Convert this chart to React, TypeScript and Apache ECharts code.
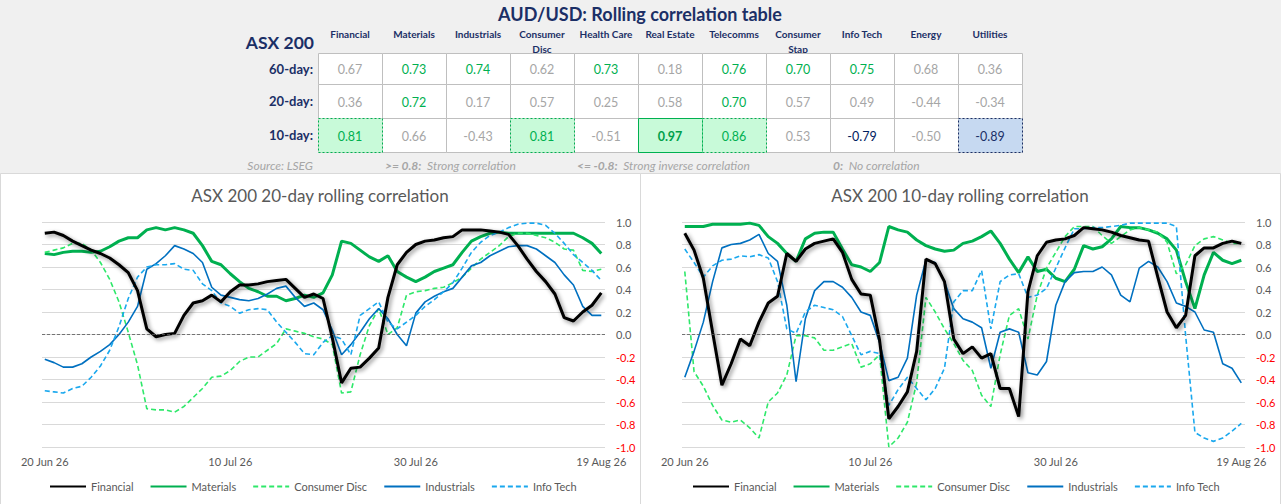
import { useEffect, useRef } from 'react';
import * as echarts from 'echarts';

const FONT = 'Lato, "Open Sans", sans-serif';

// ---- table data ----
const sectors = ['Financial', 'Materials', 'Industrials', 'Consumer\nDisc', 'Health Care', 'Real Estate', 'Telecomms', 'Consumer\nStap', 'Info Tech', 'Energy', 'Utilities'];
const rowLabels = ['60-day:', '20-day:', '10-day:'];
const corr60 = [0.67, 0.73, 0.74, 0.62, 0.73, 0.18, 0.76, 0.70, 0.75, 0.68, 0.36];
const corr20 = [0.36, 0.72, 0.17, 0.57, 0.25, 0.58, 0.70, 0.57, 0.49, -0.44, -0.34];
const corr10 = [0.81, 0.66, -0.43, 0.81, -0.51, 0.97, 0.86, 0.53, -0.79, -0.50, -0.89];

// ---- chart data (one value per day, 20 Jun 26 .. 19 Aug 26) ----
const tickDays = [0, 20, 40, 60];
const tickLabels = ['20 Jun 26', '10 Jul 26', '30 Jul 26', '19 Aug 26'];
const seriesNames = ['Financial', 'Materials', 'Consumer Disc', 'Industrials', 'Info Tech'];

const fin20 = [0.90, 0.91, 0.88, 0.83, 0.79, 0.75, 0.72, 0.68, 0.62, 0.55, 0.39, 0.05, -0.02, 0.00, 0.01, 0.17, 0.28, 0.30, 0.35, 0.29, 0.38, 0.44, 0.44, 0.45, 0.47, 0.48, 0.49, 0.41, 0.33, 0.36, 0.32, -0.03, -0.43, -0.30, -0.29, -0.21, -0.12, 0.33, 0.62, 0.73, 0.80, 0.83, 0.84, 0.86, 0.87, 0.93, 0.93, 0.93, 0.92, 0.91, 0.89, 0.79, 0.67, 0.56, 0.47, 0.36, 0.15, 0.12, 0.20, 0.26, 0.37];
const mat20 = [0.72, 0.71, 0.73, 0.74, 0.74, 0.73, 0.74, 0.78, 0.83, 0.86, 0.86, 0.93, 0.95, 0.93, 0.95, 0.93, 0.90, 0.79, 0.65, 0.62, 0.54, 0.47, 0.41, 0.38, 0.34, 0.34, 0.30, 0.32, 0.35, 0.33, 0.37, 0.53, 0.83, 0.81, 0.75, 0.69, 0.65, 0.70, 0.56, 0.51, 0.47, 0.51, 0.56, 0.59, 0.62, 0.73, 0.83, 0.87, 0.90, 0.91, 0.90, 0.90, 0.90, 0.90, 0.90, 0.90, 0.90, 0.90, 0.86, 0.81, 0.72];
const cd20 = [0.73, 0.75, 0.77, 0.81, 0.81, 0.75, 0.64, 0.49, 0.29, 0.02, -0.27, -0.66, -0.67, -0.67, -0.69, -0.64, -0.56, -0.48, -0.38, -0.37, -0.32, -0.24, -0.20, -0.20, -0.14, -0.08, 0.05, 0.03, 0.01, -0.02, -0.04, -0.09, -0.52, -0.51, -0.18, 0.08, 0.23, 0.00, 0.06, 0.35, 0.38, 0.39, 0.41, 0.42, 0.46, 0.51, 0.59, 0.67, 0.73, 0.79, 0.87, 0.90, 0.90, 0.88, 0.86, 0.82, 0.76, 0.75, 0.57, 0.56, 0.58];
const ind20 = [-0.22, -0.25, -0.29, -0.29, -0.26, -0.20, -0.15, -0.09, 0.00, 0.11, 0.25, 0.58, 0.63, 0.70, 0.79, 0.76, 0.72, 0.64, 0.42, 0.35, 0.33, 0.31, 0.30, 0.32, 0.36, 0.41, 0.43, 0.33, 0.25, 0.28, 0.22, 0.04, -0.18, -0.09, 0.02, 0.14, 0.23, 0.14, 0.00, -0.10, 0.19, 0.29, 0.34, 0.38, 0.41, 0.51, 0.61, 0.64, 0.70, 0.74, 0.78, 0.79, 0.79, 0.76, 0.70, 0.64, 0.53, 0.44, 0.25, 0.17, 0.17];
const it20 = [-0.50, -0.51, -0.52, -0.48, -0.46, -0.38, -0.28, -0.14, 0.07, 0.32, 0.51, 0.60, 0.62, 0.62, 0.63, 0.58, 0.57, 0.45, 0.39, 0.28, 0.25, 0.19, 0.22, 0.23, 0.22, 0.11, 0.02, -0.07, -0.17, -0.18, -0.07, -0.01, -0.04, -0.18, 0.17, 0.23, 0.29, 0.11, 0.05, 0.11, 0.17, 0.25, 0.31, 0.38, 0.46, 0.59, 0.73, 0.82, 0.88, 0.91, 0.95, 0.98, 0.99, 0.99, 0.97, 0.90, 0.81, 0.71, 0.64, 0.57, 0.48];

const fin10 = [0.90, 0.75, 0.50, 0.02, -0.45, -0.26, -0.04, -0.10, 0.11, 0.28, 0.34, 0.72, 0.65, 0.76, 0.81, 0.83, 0.85, 0.73, 0.49, 0.36, 0.35, -0.05, -0.75, -0.64, -0.51, -0.15, 0.67, 0.63, 0.47, -0.04, -0.17, -0.11, -0.21, -0.17, -0.48, -0.48, -0.73, 0.38, 0.70, 0.82, 0.84, 0.85, 0.88, 0.95, 0.94, 0.93, 0.91, 0.88, 0.86, 0.84, 0.83, 0.51, 0.20, 0.06, 0.17, 0.70, 0.77, 0.77, 0.81, 0.83, 0.81];
const mat10 = [0.96, 0.96, 0.96, 0.98, 0.98, 0.98, 0.98, 0.99, 0.97, 0.87, 0.81, 0.72, 0.65, 0.85, 0.90, 0.91, 0.91, 0.76, 0.62, 0.60, 0.56, 0.64, 0.96, 0.93, 0.91, 0.84, 0.79, 0.76, 0.74, 0.75, 0.81, 0.83, 0.87, 0.92, 0.81, 0.67, 0.55, 0.69, 0.56, 0.58, 0.50, 0.47, 0.58, 0.79, 0.76, 0.78, 0.85, 0.96, 0.95, 0.95, 0.93, 0.90, 0.85, 0.75, 0.47, 0.23, 0.53, 0.73, 0.66, 0.63, 0.66];
const cd10 = [0.56, -0.33, -0.46, -0.63, -0.76, -0.78, -0.76, -0.83, -0.92, -0.60, -0.52, -0.36, -0.01, -0.01, -0.03, -0.14, -0.14, -0.11, -0.08, -0.29, -0.26, -0.18, -1.00, -0.92, -0.78, -0.43, 0.33, 0.20, 0.05, -0.08, -0.23, -0.32, -0.54, -0.64, -0.18, 0.17, 0.23, -0.04, 0.35, 0.59, 0.73, 0.87, 0.96, 0.96, 0.96, 0.88, 0.81, 0.87, 0.93, 0.95, 0.93, 0.91, 0.82, 0.54, 0.62, 0.79, 0.85, 0.87, 0.84, 0.81, 0.81];
const ind10 = [-0.38, -0.15, 0.11, 0.47, 0.77, 0.80, 0.81, 0.84, 0.89, 0.72, 0.65, 0.26, -0.42, 0.14, 0.39, 0.47, 0.47, 0.42, 0.33, 0.20, 0.17, -0.07, -0.41, -0.38, -0.21, 0.35, 0.66, 0.64, 0.47, 0.23, 0.14, 0.11, 0.06, -0.30, 0.02, 0.05, 0.02, -0.34, -0.36, -0.24, 0.26, 0.47, 0.55, 0.56, 0.56, 0.60, 0.53, 0.35, 0.29, 0.59, 0.65, 0.60, 0.47, 0.28, 0.25, 0.20, 0.04, 0.02, -0.26, -0.30, -0.43];
const it10 = [0.76, 0.64, 0.51, 0.61, 0.66, 0.67, 0.70, 0.69, 0.71, 0.68, 0.47, 0.05, 0.01, 0.20, 0.26, 0.24, 0.22, 0.16, -0.01, -0.18, -0.15, -0.17, -0.63, -0.49, -0.38, -0.48, -0.58, -0.48, -0.30, 0.29, 0.39, 0.39, 0.57, 0.05, 0.47, 0.53, 0.54, 0.33, 0.35, 0.41, 0.59, 0.77, 0.94, 0.94, 0.95, 0.95, 0.96, 0.97, 0.99, 0.99, 0.99, 0.99, 0.99, 0.96, -0.01, -0.87, -0.92, -0.95, -0.92, -0.86, -0.79];

const lineStyles = [
    { color: '#000000', width: 3, type: 'solid' as any, shadow: true },
    { color: '#00b050', width: 3, type: 'solid' as any },
    { color: '#2ee86a', width: 1.6, type: [5, 3] as any },
    { color: '#0070c0', width: 1.6, type: 'solid' as any },
    { color: '#1aa8ee', width: 1.6, type: [5, 3] as any },
];

const NAVY = '#1b2f66';
const GREY = '#a6a6a6';

function cellLook(v: number) {
    if (v >= 0.9) return { fill: '#c8fad9', stroke: '#00b050', dash: null, color: '#00a04a', bold: true };
    if (v >= 0.8) return { fill: '#c8fad9', stroke: '#00b050', dash: [2, 2], color: '#00b050', bold: false };
    if (v <= -0.8) return { fill: '#c6d9f1', stroke: NAVY, dash: [2, 2], color: NAVY, bold: false };
    if (v >= 0.7) return { color: '#00b050' };
    if (v <= -0.7) return { color: '#002060' };
    return { color: GREY };
}

function text(x: number, y: number, t: string, o: any = {}) {
    return {
        type: 'text', x, y,
        style: {
            text: t, fill: o.fill ?? '#595959', fontFamily: FONT, fontSize: o.size ?? 11,
            fontWeight: o.bold ? 'bold' : 'normal', fontStyle: o.italic ? 'italic' : 'normal',
            align: o.align ?? 'left', verticalAlign: o.va ?? 'middle', lineHeight: o.lh, rich: o.rich,
        },
    };
}

function buildGraphics() {
    const g: any[] = [];
    // chart panels
    g.push({ type: 'rect', z: -5, shape: { x: 0.5, y: 173.5, width: 640, height: 331 }, style: { fill: '#ffffff', stroke: '#d9d9d9', lineWidth: 1 } });
    g.push({ type: 'rect', z: -5, shape: { x: 640.5, y: 173.5, width: 640, height: 331 }, style: { fill: '#ffffff', stroke: '#d9d9d9', lineWidth: 1 } });

    g.push(text(640, 14, 'AUD/USD: Rolling correlation table', { fill: NAVY, size: 18, bold: true, align: 'center' }));
    g.push(text(314, 42, 'ASX 200', { fill: NAVY, size: 17.5, bold: true, align: 'right' }));

    const x0 = 318, colW = 64;
    const rowTop = [53, 84, 118];
    const rowH = [31, 34, 34];
    const rows = [corr60, corr20, corr10];

    sectors.forEach((s, i) => {
        g.push(text(x0 + colW * i + colW / 2, 26.5, s, { fill: NAVY, size: 10, bold: true, align: 'center', va: 'top', lh: 15 }));
    });

    rowLabels.forEach((r, j) => {
        g.push(text(313, rowTop[j] + rowH[j] / 2, r, { fill: NAVY, size: 13, bold: true, align: 'right' }));
    });

    // plain cells first
    rows.forEach((vals, j) => {
        vals.forEach((v, i) => {
            g.push({ type: 'rect', shape: { x: x0 + colW * i + 0.5, y: rowTop[j] + 0.5, width: colW, height: rowH[j] }, style: { fill: '#ffffff', stroke: '#bfbfbf', lineWidth: 1 } });
        });
    });
    // highlighted cells and values
    rows.forEach((vals, j) => {
        vals.forEach((v, i) => {
            const look: any = cellLook(v);
            if (look.fill) {
                g.push({
                    type: 'rect', shape: { x: x0 + colW * i + 0.5, y: rowTop[j] + 0.5, width: colW, height: rowH[j] },
                    style: { fill: look.fill, stroke: look.stroke, lineWidth: 1, lineDash: look.dash ?? undefined },
                });
            }
            g.push(text(x0 + colW * i + colW / 2, rowTop[j] + rowH[j] / 2 + 1, v.toFixed(2), { fill: look.color, size: 12.5, bold: look.bold, align: 'center' }));
        });
    });

    // footer notes
    g.push(text(313, 165, 'Source: LSEG', { fill: GREY, size: 12, italic: true, align: 'right' }));
    const note = (x: number, key: string, desc: string) => text(x, 165, `{b|${key}}  ${desc}`, {
        fill: GREY, size: 12, italic: true,
        rich: { b: { fontWeight: 'bold', fontStyle: 'italic', fill: GREY, fontSize: 12, fontFamily: FONT } },
    });
    g.push(note(385, '>= 0.8:', 'Strong correlation'));
    g.push(note(577, '<= -0.8:', 'Strong inverse correlation'));
    g.push(note(833, '0:', 'No correlation'));

    // chart titles
    g.push(text(320, 195, 'ASX 200 20-day rolling correlation', { fill: '#595959', size: 17, align: 'center' }));
    g.push(text(960, 195, 'ASX 200 10-day rolling correlation', { fill: '#595959', size: 17, align: 'center' }));
    return g;
}

function makeSeries(gridIndex: number, sets: number[][]) {
    return sets.map((vals, k) => {
        const ls = lineStyles[k];
        const s: any = {
            type: 'line',
            name: seriesNames[k],
            xAxisIndex: gridIndex,
            yAxisIndex: gridIndex,
            symbol: 'none',
            z: k === 0 ? 4 : 2,
            data: vals.map((v, i) => [i, v]),
            lineStyle: {
                color: ls.color, width: ls.width, type: ls.type,
                ...(ls.shadow ? { shadowColor: 'rgba(0,0,0,0.45)', shadowBlur: 4, shadowOffsetX: 2, shadowOffsetY: 2 } : {}),
            },
            itemStyle: { color: ls.color },
        };
        if (k === 3) {
            s.markLine = {
                silent: true, symbol: ['none', 'none'], label: { show: false },
                lineStyle: { color: '#595959', type: [3, 2], width: 0.8 },
                data: [{ yAxis: 0 }],
            };
        }
        return s;
    });
}

function xAxisOpt(gridIndex: number) {
    return {
        type: 'value', gridIndex, min: -0.3, max: 60.4,
        axisLine: { show: false }, axisTick: { show: false }, splitLine: { show: false },
        axisLabel: {
            customValues: tickDays,
            formatter: (v: number) => tickLabels[tickDays.indexOf(Math.round(v))] ?? '',
            color: '#595959', fontSize: 11, margin: 9, fontFamily: FONT,
        },
    };
}

function yAxisOpt(gridIndex: number) {
    return {
        type: 'value', gridIndex, position: 'right', min: -1, max: 1, interval: 0.2,
        axisLine: { show: false }, axisTick: { show: false },
        splitLine: { lineStyle: { color: '#d9d9d9', width: 1 } },
        axisLabel: {
            formatter: (v: number) => (Math.abs(v) < 1e-9 ? '0.0' : v.toFixed(1)),
            color: (v: any) => (Number(v) < -1e-9 ? '#ff0000' : '#595959'),
            margin: 11, fontSize: 11, fontFamily: FONT,
        },
    };
}

function legendOpt(left: number) {
    return {
        left, top: 476, data: seriesNames, selectedMode: false,
        itemWidth: 36, itemHeight: 12, itemGap: 16,
        itemStyle: { opacity: 0 },
        textStyle: { color: '#595959', fontSize: 11, fontFamily: FONT },
    };
}

export default function App() {
    const ref = useRef<HTMLDivElement>(null);

    useEffect(() => {
        if (!ref.current) return;
        const chart = echarts.init(ref.current, undefined, { renderer: 'svg' });
        chart.setOption({
            animation: false,
            backgroundColor: '#f0f0f0',
            textStyle: { fontFamily: FONT },
            graphic: buildGraphics(),
            grid: [
                { left: 42, top: 222, width: 563, height: 225 },
                { left: 682, top: 222, width: 563, height: 225 },
            ],
            xAxis: [xAxisOpt(0), xAxisOpt(1)],
            yAxis: [yAxisOpt(0), yAxisOpt(1)],
            legend: [legendOpt(44), legendOpt(687)],
            series: [
                ...makeSeries(0, [fin20, mat20, cd20, ind20, it20]),
                ...makeSeries(1, [fin10, mat10, cd10, ind10, it10]),
            ],
        });
        return () => chart.dispose();
    }, []);

    return <div ref={ref} style={{ position: 'fixed', left: 0, top: 0, width: 1281, height: 504 }} />;
}
